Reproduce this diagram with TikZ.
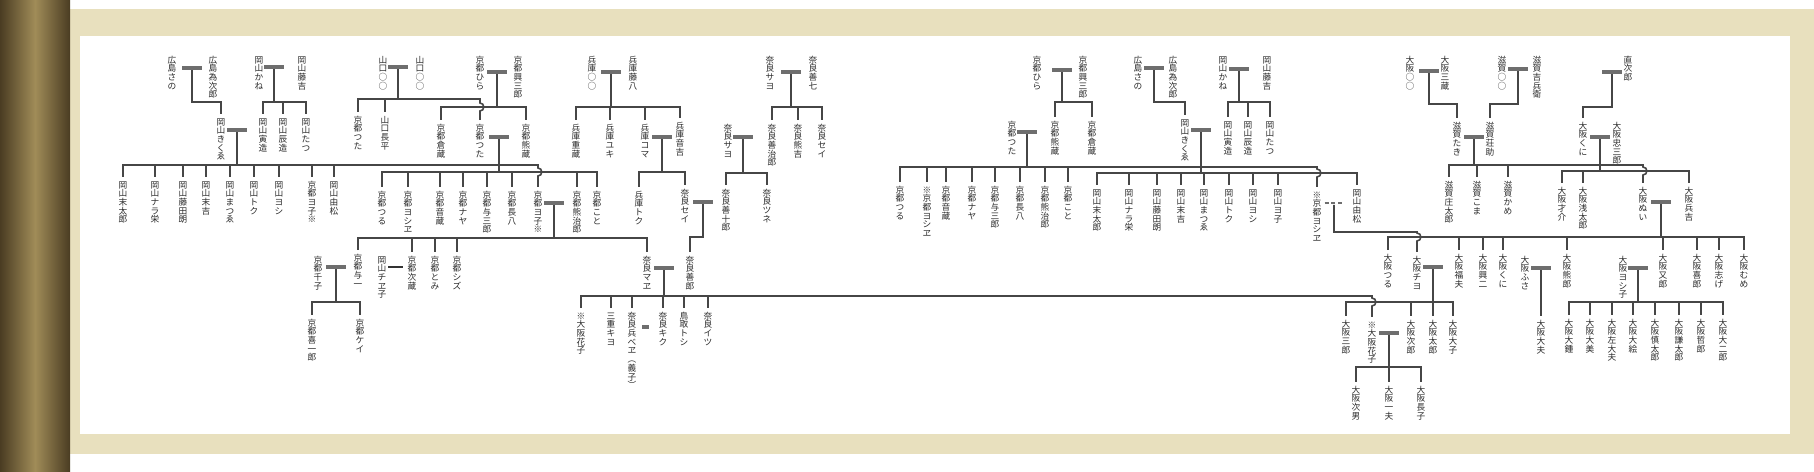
\documentclass[tikz,border=0pt]{standalone}
\usepackage{fontspec}
\newfontfamily\jp{Noto Sans CJK JP}
\usetikzlibrary{calc}
\definecolor{cPaper}{HTML}{E8E0BE}
\definecolor{cRodDark}{HTML}{4A3C22}
\definecolor{cRodLight}{HTML}{A08C58}
\definecolor{cLine}{HTML}{464646}
\definecolor{cBar}{HTML}{6E6E6E}
\definecolor{cText}{HTML}{2A2A2A}

% vertical (tategaki) name: one character per line
\def\vtE{}
\newcommand\vt[1]{\vbox{\offinterlineskip\vtA#1\vtE}}
\def\vtA#1#2{\hbox to 1.05em{\vrule height .88em depth .12em width 0pt\hss#1\hss}%
  \ifx#2\vtE\else\expandafter\vtA\expandafter#2\fi}

\begin{document}
\begin{tikzpicture}[x=0.02cm, y=-0.02cm,
    nm/.style={anchor=north, inner sep=0pt, outer sep=2pt, text=cText, font=\jp\fontsize{4.95}{5}\selectfont},
    bar/.style={fill=cBar, inner sep=0pt, minimum width=0.4cm, minimum height=1.9pt},
    sbar/.style={fill=cBar, inner sep=0pt, minimum width=0.14cm, minimum height=2pt},
    tbar/.style={fill=black!80, inner sep=0pt, minimum width=0.3cm, minimum height=0.9pt},
    dbar/.style={inner sep=0pt, minimum width=0.36cm, minimum height=1.8pt},
    kin/.style={draw=cLine, line width=0.9pt}
]
\useasboundingbox (0,0) rectangle (1814,472);

% scroll
\fill[cPaper] (60,9) rectangle (1814,454);
\fill[white] (80,36) rectangle (1790,434);
\shade[left color=cRodDark, right color=cRodDark, middle color=cRodLight] (0,0) rectangle (70,472);

% ---- left half, first generation
\node[nm] (hsano) at (172,52) {\vt{広島さの}};
\node[nm] (htame) at (213,52) {\vt{広島為次郎}};
\node[nm] (okane) at (259,52) {\vt{岡山かね}};
\node[nm] (otoki) at (302,52) {\vt{岡山藤吉}};
\node[nm] (yama1) at (383,52) {\vt{山口○○}};
\node[nm] (yama2) at (420,52) {\vt{山口○○}};
\node[nm] (khira) at (480,52) {\vt{京都ひら}};
\node[nm] (kkoza) at (518,52) {\vt{京都興三郎}};
\node[nm] (hyo0) at (592,52) {\vt{兵庫○○}};
\node[nm] (hfuji) at (633,52) {\vt{兵庫藤八}};
\node[nm] (nsayo) at (770,52) {\vt{奈良サヨ}};
\node[nm] (nzen7) at (813,52) {\vt{奈良善七}};

% second generation
\node[nm] (okiku) at (221,114) {\vt{岡山きくゑ}};
\node[nm] (otora) at (263,114) {\vt{岡山寅造}};
\node[nm] (otatz) at (283,114) {\vt{岡山辰造}};
\node[nm] (otatu) at (306,114) {\vt{岡山たつ}};
\node[nm] (ktsuta1) at (358,112) {\vt{京都つた}};
\node[nm] (ychou) at (385,112) {\vt{山口長平}};
\node[nm] (kkura) at (441,120) {\vt{京都倉蔵}};
\node[nm] (ktsuta2) at (480,120) {\vt{京都つた}};
\node[nm] (kkuma) at (526,120) {\vt{京都熊蔵}};
\node[nm] (hjuu) at (576,120) {\vt{兵庫重蔵}};
\node[nm] (hyuki) at (610,120) {\vt{兵庫ユキ}};
\node[nm] (hkoma) at (645,120) {\vt{兵庫コマ}};
\node[nm] (hoto) at (680,118) {\vt{兵庫音吉}};
\node[nm] (nsayo2) at (728,120) {\vt{奈良サヨ}};
\node[nm] (nzenji) at (772,120) {\vt{奈良善治郎}};
\node[nm] (nkuma) at (798,120) {\vt{奈良熊吉}};
\node[nm] (nsei1) at (822,120) {\vt{奈良セイ}};

% third generation
\node[nm] (oa1) at (123,177) {\vt{岡山末太郎}};
\node[nm] (oa2) at (155,177) {\vt{岡山ナラ栄}};
\node[nm] (oa3) at (183,177) {\vt{岡山藤田朗}};
\node[nm] (oa4) at (206,177) {\vt{岡山末吉}};
\node[nm] (oa5) at (230,177) {\vt{岡山まつゑ}};
\node[nm] (oa6) at (254,177) {\vt{岡山トク}};
\node[nm] (oa7) at (279,177) {\vt{岡山ヨシ}};
\node[nm] (oa8) at (312,177) {\vt{京都ヨ子※}};
\node[nm] (oa9) at (334,177) {\vt{岡山由松}};
\node[nm] (ka1) at (382,187) {\vt{京都つる}};
\node[nm] (ka2) at (408,187) {\vt{京都ヨシヱ}};
\node[nm] (ka3) at (440,187) {\vt{京都音蔵}};
\node[nm] (ka4) at (463,187) {\vt{京都ナヤ}};
\node[nm] (ka5) at (487,187) {\vt{京都与三郎}};
\node[nm] (ka6) at (512,187) {\vt{京都長八}};
\node[nm] (kyoko) at (538,187) {\vt{京都ヨ子※}};
\node[nm] (ka8) at (577,187) {\vt{京都熊治郎}};
\node[nm] (ka9) at (597,187) {\vt{京都こと}};
\node[nm] (htoku) at (639,187) {\vt{兵庫トク}};
\node[nm] (nsei2) at (685,185) {\vt{奈良セイ}};
\node[nm] (nzen10) at (726,185) {\vt{奈良善十郎}};
\node[nm] (ntsune) at (767,185) {\vt{奈良ツネ}};

% fourth generation
\node[nm] (kchi) at (318,252) {\vt{京都千子}};
\node[nm] (kyoi) at (358,250) {\vt{京都与一}};
\node[nm] (ochie) at (382,252) {\vt{岡山チヱ子}};
\node[nm] (kjizo) at (412,252) {\vt{京都次蔵}};
\node[nm] (ktomi) at (435,252) {\vt{京都とみ}};
\node[nm] (kshizu) at (457,252) {\vt{京都シズ}};
\node[nm] (nmae) at (647,252) {\vt{奈良マヱ}};
\node[nm] (nzenro) at (690,252) {\vt{奈良善郎}};

% fifth generation
\node[nm] (kki) at (312,315) {\vt{京都喜一郎}};
\node[nm] (kkei) at (360,315) {\vt{京都ケイ}};
\node[nm] (nb1) at (581,308) {\vt{※大阪花子}};
\node[nm] (nb2) at (611,308) {\vt{三重キヨ}};
\node[nm] (nb3) at (632,308) {\vt{奈良兵べヱ︵義子︶}};
\node[nm] (nb4) at (663,308) {\vt{奈良キク}};
\node[nm] (nb5) at (684,308) {\vt{鳥取トシ}};
\node[nm] (nb6) at (708,308) {\vt{奈良イツ}};

% ---- right half, first generation
\node[nm] (rhira) at (1037,52) {\vt{京都ひら}};
\node[nm] (rkoza) at (1083,52) {\vt{京都興三郎}};
\node[nm] (rsano) at (1138,52) {\vt{広島さの}};
\node[nm] (rtame) at (1173,52) {\vt{広島為次郎}};
\node[nm] (rkane) at (1223,52) {\vt{岡山かね}};
\node[nm] (rtoki) at (1267,52) {\vt{岡山藤吉}};
\node[nm] (oo0) at (1410,52) {\vt{大阪○○}};
\node[nm] (ozo) at (1445,52) {\vt{大阪三蔵}};
\node[nm] (sh0) at (1502,52) {\vt{滋賀○○}};
\node[nm] (shki) at (1537,52) {\vt{滋賀吉兵衛}};
\node[nm] (naoji) at (1628,52) {\vt{直次郎}};

% second generation
\node[nm] (rtsuta) at (1012,117) {\vt{京都つた}};
\node[nm] (rkuma) at (1055,117) {\vt{京都熊蔵}};
\node[nm] (rkura) at (1092,117) {\vt{京都倉蔵}};
\node[nm] (rkiku) at (1185,115) {\vt{岡山きくゑ}};
\node[nm] (rtora) at (1228,117) {\vt{岡山寅造}};
\node[nm] (rtatz) at (1248,117) {\vt{岡山辰造}};
\node[nm] (rtatu) at (1270,117) {\vt{岡山たつ}};
\node[nm] (staki) at (1457,118) {\vt{滋賀たき}};
\node[nm] (ssou) at (1490,118) {\vt{滋賀荘助}};
\node[nm] (okuni) at (1583,118) {\vt{大阪くに}};
\node[nm] (ochu) at (1617,118) {\vt{大阪忠三郎}};

% third generation
\node[nm] (rk1) at (900,182) {\vt{京都つる}};
\node[nm] (rk2) at (927,182) {\vt{※京都ヨシヱ}};
\node[nm] (rk3) at (946,182) {\vt{京都音蔵}};
\node[nm] (rk4) at (972,182) {\vt{京都ナヤ}};
\node[nm] (rk5) at (995,182) {\vt{京都与三郎}};
\node[nm] (rk6) at (1020,182) {\vt{京都長八}};
\node[nm] (rk7) at (1045,182) {\vt{京都熊治郎}};
\node[nm] (rk8) at (1068,182) {\vt{京都こと}};
\node[nm] (ro1) at (1097,185) {\vt{岡山末太郎}};
\node[nm] (ro2) at (1129,185) {\vt{岡山ナラ栄}};
\node[nm] (ro3) at (1157,185) {\vt{岡山藤田朗}};
\node[nm] (ro4) at (1181,185) {\vt{岡山末吉}};
\node[nm] (ro5) at (1204,185) {\vt{岡山まつゑ}};
\node[nm] (ro6) at (1229,185) {\vt{岡山トク}};
\node[nm] (ro7) at (1253,185) {\vt{岡山ヨシ}};
\node[nm] (ro8) at (1278,185) {\vt{岡山ヨ子}};
\node[nm] (ryoshie) at (1317,187) {\vt{※京都ヨシヱ}};
\node[nm] (ro9) at (1357,185) {\vt{岡山由松}};
\node[nm] (sg1) at (1449,177) {\vt{滋賀庄太郎}};
\node[nm] (sg2) at (1477,177) {\vt{滋賀こま}};
\node[nm] (sg3) at (1508,177) {\vt{滋賀かめ}};
\node[nm] (osai) at (1562,183) {\vt{大阪才介}};
\node[nm] (osen) at (1583,183) {\vt{大阪浅太郎}};
\node[nm] (onui) at (1643,183) {\vt{大阪ぬい}};
\node[nm] (ohei) at (1689,183) {\vt{大阪兵吉}};

% fourth generation
\node[nm] (ow1) at (1388,250) {\vt{大阪つる}};
\node[nm] (ochiyo) at (1417,252) {\vt{大阪チヨ}};
\node[nm] (ofuku) at (1459,250) {\vt{大阪福夫}};
\node[nm] (okou) at (1483,250) {\vt{大阪興二}};
\node[nm] (okuni2) at (1503,250) {\vt{大阪くに}};
\node[nm] (ofusa) at (1525,252) {\vt{大阪ふさ}};
\node[nm] (okuma) at (1567,250) {\vt{大阪熊郎}};
\node[nm] (oyoshi) at (1623,252) {\vt{大阪ヨシ子}};
\node[nm] (omata) at (1663,250) {\vt{大阪又郎}};
\node[nm] (oki) at (1697,250) {\vt{大阪喜郎}};
\node[nm] (oshige) at (1719,250) {\vt{大阪志げ}};
\node[nm] (omume) at (1744,250) {\vt{大阪むめ}};

% fifth and sixth generation
\node[nm] (osab) at (1346,316) {\vt{大阪三郎}};
\node[nm] (ohana) at (1372,317) {\vt{※大阪花子}};
\node[nm] (ojiro) at (1411,316) {\vt{大阪次郎}};
\node[nm] (otaro) at (1433,316) {\vt{大阪太郎}};
\node[nm] (odaiko) at (1453,316) {\vt{大阪大子}};
\node[nm] (odayu) at (1541,316) {\vt{大阪大夫}};
\node[nm] (oz1) at (1569,315) {\vt{大阪大鍾}};
\node[nm] (oz2) at (1590,315) {\vt{大阪大美}};
\node[nm] (oz3) at (1612,315) {\vt{大阪左大夫}};
\node[nm] (oz4) at (1633,315) {\vt{大阪大絵}};
\node[nm] (oz5) at (1655,315) {\vt{大阪慎太郎}};
\node[nm] (oz6) at (1679,315) {\vt{大阪謙太郎}};
\node[nm] (oz7) at (1701,315) {\vt{大阪哲郎}};
\node[nm] (oz8) at (1723,315) {\vt{大阪大二郎}};
\node[nm] (ojinan) at (1356,382) {\vt{大阪次男}};
\node[nm] (okazuo) at (1389,382) {\vt{大阪一夫}};
\node[nm] (ochoko) at (1421,382) {\vt{大阪長子}};

% ---- marriage bars
\node[bar] (mA) at (192,68) {};
\node[bar] (mB) at (274,67) {};
\node[bar] (mC) at (398,67) {};
\node[bar] (mD) at (497,72) {};
\node[bar] (mE) at (611,72) {};
\node[bar] (mF) at (791,72) {};
\node[bar] (mG) at (237,130) {};
\node[bar] (mH) at (499,137) {};
\node[bar] (mI) at (662,137) {};
\node[bar] (mJ) at (743,137) {};
\node[bar] (mK) at (703,202) {};
\node[bar] (mL) at (554,203) {};
\node[bar] (mM) at (336,267) {};
\node[tbar] (mN) at (395,267) {};
\node[bar] (mO) at (664,268) {};
\node[sbar] (mP) at (645,327) {};
\node[bar] (mQ) at (1062,70) {};
\node[bar] (mR) at (1154,68) {};
\node[bar] (mS) at (1239,69) {};
\node[bar] (mT) at (1429,71) {};
\node[bar] (mU) at (1518,69) {};
\node[bar] (mV) at (1612,72) {};
\node[bar] (mW) at (1027,132) {};
\node[bar] (mX) at (1201,130) {};
\node[bar] (mY) at (1474,137) {};
\node[bar] (mZ) at (1600,137) {};
\node[dbar] (mAA) at (1334,203) {};
\node[bar] (mAB) at (1661,202) {};
\node[bar] (mAC) at (1433,267) {};
\node[bar] (mAD) at (1541,268) {};
\node[bar] (mAE) at (1638,268) {};
\node[bar] (mAF) at (1389,333) {};
\draw[cBar, line width=1.6pt, dash pattern=on 2.2pt off 1.6pt] (mAA.west) -- (mAA.east);

% ---- descent lines, left half
\draw[kin] (mA) -- ++(0,34) -| (okiku);
\draw[kin] (mB) -- ++(0,35) coordinate (jB);
\foreach \c in {otora,otatz,otatu} \draw[kin] (jB) -| (\c);
\draw[kin] (mC) -- ++(0,32) coordinate (jC);
\foreach \c in {ktsuta1,ychou} \draw[kin] (jC) -| (\c);
\draw[kin] (jC) -| (480,103) .. controls (485,103) and (485,111) .. (480,111) -- (ktsuta2);
\draw[kin] (mD) -- ++(0,35) coordinate (jD);
\foreach \c in {kkura,kkuma} \draw[kin] (jD) -| (\c);
\draw[kin] (mE) -- ++(0,35) coordinate (jE);
\foreach \c in {hjuu,hyuki,hkoma,hoto} \draw[kin] (jE) -| (\c);
\draw[kin] (mF) -- ++(0,35) coordinate (jF);
\foreach \c in {nzenji,nkuma,nsei1} \draw[kin] (jF) -| (\c);
\draw[kin] (mG) -- ++(0,35) coordinate (jG);
\foreach \c in {oa1,oa2,oa3,oa4,oa5,oa6,oa7,oa8,oa9} \draw[kin] (jG) -| (\c);
\draw[kin] (jG) -| (538,168) .. controls (543,168) and (543,176) .. (538,176) -- (kyoko);
\draw[kin] (mH) -- ++(0,35) coordinate (jH);
\foreach \c in {ka1,ka2,ka3,ka4,ka5,ka6,ka8,ka9} \draw[kin] (jH) -| (\c);
\draw[kin] (mI) -- ++(0,35) coordinate (jI);
\foreach \c in {htoku,nsei2} \draw[kin] (jI) -| (\c);
\draw[kin] (mJ) -- ++(0,36) coordinate (jJ);
\foreach \c in {nzen10,ntsune} \draw[kin] (jJ) -| (\c);
\draw[kin] (mK) -- ++(0,35) -| (nzenro);
\draw[kin] (mL) -- ++(0,35) coordinate (jL);
\foreach \c in {kyoi,kjizo,ktomi,kshizu,nmae} \draw[kin] (jL) -| (\c);
\draw[kin] (mM) -- ++(0,35) coordinate (jM);
\foreach \c in {kki,kkei} \draw[kin] (jM) -| (\c);
\draw[kin] (mO) -- ++(0,28) coordinate (jO);
\foreach \c in {nb1,nb2,nb3,nb4,nb5,nb6} \draw[kin] (jO) -| (\c);
\draw[kin] (jO) -| (1372,298) .. controls (1377,298) and (1377,306) .. (1372,306) -- (ohana);

% ---- descent lines, right half
\draw[kin] (mQ) -- ++(0,32) coordinate (jQ);
\foreach \c in {rkuma,rkura} \draw[kin] (jQ) -| (\c);
\draw[kin] (mR) -- ++(0,34) -| (rkiku);
\draw[kin] (mS) -- ++(0,33) coordinate (jS);
\foreach \c in {rtora,rtatz,rtatu} \draw[kin] (jS) -| (\c);
\draw[kin] (mT) -- ++(0,33) -| (staki);
\draw[kin] (mU) -- ++(0,35) -| (ssou);
\draw[kin] (mV) -- ++(0,35) -| (okuni);
\draw[kin] (mW) -- ++(0,35) coordinate (jW);
\foreach \c in {rk1,rk2,rk3,rk4,rk5,rk6,rk7,rk8} \draw[kin] (jW) -| (\c);
\draw[kin] (jW) -| (1317,169) .. controls (1322,169) and (1322,177) .. (1317,177) -- (ryoshie);
\draw[kin] (mX) -- ++(0,43) coordinate (jX);
\foreach \c in {ro1,ro2,ro3,ro4,ro5,ro6,ro7,ro8,ro9} \draw[kin] (jX) -| (\c);
\draw[kin] (mY) -- ++(0,28) coordinate (jY);
\foreach \c in {sg1,sg2,sg3} \draw[kin] (jY) -| (\c);
\draw[kin] (jY) -| (1643,167) .. controls (1648,167) and (1648,175) .. (1643,175) -- (onui);
\draw[kin] (mZ) -- ++(0,34) coordinate (jZ);
\foreach \c in {osai,osen,ohei} \draw[kin] (jZ) -| (\c);
\draw[kin] (mAA) -- ++(0,29) -| (1417,233) .. controls (1422,233) and (1422,241) .. (1417,241) -- (ochiyo);
\draw[kin] (mAB) -- ++(0,35) coordinate (jAB);
\foreach \c in {ow1,ofuku,okou,okuni2,okuma,omata,oki,oshige,omume} \draw[kin] (jAB) -| (\c);
\draw[kin] (mAC) -- ++(0,35) coordinate (jAC);
\foreach \c in {osab,ojiro,otaro,odaiko} \draw[kin] (jAC) -| (\c);
\draw[kin] (mAD) -- (odayu);
\draw[kin] (mAE) -- ++(0,34) coordinate (jAE);
\foreach \c in {oz1,oz2,oz3,oz4,oz5,oz6,oz7,oz8} \draw[kin] (jAE) -| (\c);
\draw[kin] (mAF) -- ++(0,34) coordinate (jAF);
\foreach \c in {ojinan,okazuo,ochoko} \draw[kin] (jAF) -| (\c);

\end{tikzpicture}
\end{document}
